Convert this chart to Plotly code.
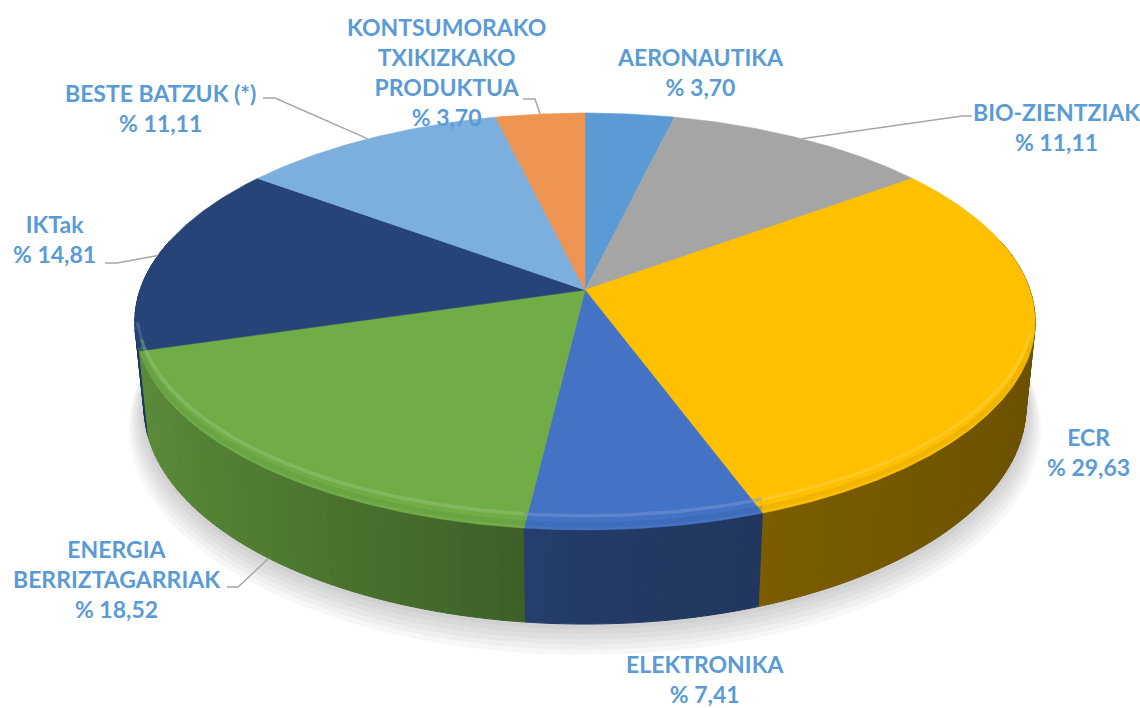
import numpy as np
import plotly.graph_objects as go

# ---------------- data ----------------
categories = ["AERONAUTIKA", "BIO-ZIENTZIAK", "ECR", "ELEKTRONIKA",
              "ENERGIA<br>BERRIZTAGARRIAK", "IKTak", "BESTE BATZUK (*)",
              "KONTSUMORAKO<br>TXIKIZKAKO<br>PRODUKTUA"]
percent = [3.70, 11.11, 29.63, 7.41, 18.52, 14.81, 11.11, 3.70]
value_labels = ["% 3,70", "% 11,11", "% 29,63", "% 7,41",
                "% 18,52", "% 14,81", "% 11,11", "% 3,70"]
colors = ["#5B9BD5", "#A5A5A5", "#FFC000", "#4472C4",
          "#70AD47", "#264478", "#7CAFDD", "#EE9452"]

# ---------------- layout / style ----------------
W, H = 1140, 708
CX, CY = 585.0, 290.0      # projected pie centre (pixels)
RA, RB = 445.0, 203.7      # horizontal / vertical radii
PK = 0.151                 # perspective strength
THICK = 85.0               # thickness of the pie
BOT_R = 0.98               # bottom rim is slightly smaller (further from camera)
LABEL_COLOR = "#5B9BD5"
LEADER_COLOR = "#A6A6A6"
FONT = "Lato"
FSIZE = 23

# label centres (pixels) and leader elbows, per category
label_xy = [(700, 72), (1056, 127), (1088, 452), (705, 679),
            (116, 579), (54, 239), (160, 108), (446, 72)]
leader = {  # idx: (label end, elbow, pie end on bottom rim?)
    1: ((972, 116), (962, 116), False),
    4: ((227, 587), (238, 587), True),
    5: ((105, 263), (117, 263), False),
    6: ((263, 98), (275, 98), False),
    7: ((523, 99), (535, 99), False),
}


def proj(theta_deg, depth=0.0, r=1.0):
    t = np.radians(theta_deg)
    X, Y = r * np.sin(t), r * np.cos(t)
    s = 1.0 / (1.0 + PK * Y)
    return CX + RA * X * s, CY - RB * Y * s + depth * s


def hex2rgb(h):
    h = h.lstrip("#")
    return tuple(int(h[i:i + 2], 16) for i in (0, 2, 4))


def shade(hexcol, f):
    r, g, b = hex2rgb(hexcol)
    return "rgb(%d,%d,%d)" % (min(255, r * f), min(255, g * f), min(255, b * f))


def lighten(hexcol, f):
    r, g, b = hex2rgb(hexcol)
    return "rgb(%d,%d,%d)" % (r + (255 - r) * f, g + (255 - g) * f, b + (255 - b) * f)


total = float(sum(percent))
angles = np.cumsum([0.0] + [p / total * 360.0 for p in percent])

fig = go.Figure()

# soft shadow under the pie
full = np.linspace(0, 360, 361)
for d in [3, 6, 9, 12, 15, 18]:
    xs, ys = proj(full, THICK + d, BOT_R + d * 0.0018)
    fig.add_trace(go.Scatter(x=xs, y=ys, mode="lines", fill="toself",
                             fillcolor="rgba(0,0,0,0.03)", line=dict(width=0),
                             hoverinfo="skip"))

# side walls, drawn back to front
quads = []
for i, (a0, a1) in enumerate(zip(angles[:-1], angles[1:])):
    n = max(2, int(np.ceil((a1 - a0) / 1.5)))
    edges = np.linspace(a0, a1, n + 1)
    for t0, t1 in zip(edges[:-1], edges[1:]):
        tm = 0.5 * (t0 + t1)
        if np.cos(np.radians(tm)) > 0.25:
            continue
        quads.append((np.cos(np.radians(tm)), i, t0, t1, tm))
quads.sort(key=lambda q: -q[0])
for _, i, t0, t1, tm in quads:
    sn = np.sin(np.radians(tm))
    f = 0.52 - (0.3 * sn if sn < 0 else 0.1 * sn)
    ts = np.linspace(t0, t1, 4)
    xt, yt = proj(ts, 0.0)
    xb, yb = proj(ts[::-1], THICK, BOT_R)
    col = shade(colors[i], f)
    fig.add_trace(go.Scatter(
        x=np.concatenate([xt, xb, xt[:1]]), y=np.concatenate([yt, yb, yt[:1]]),
        mode="lines", fill="toself", fillcolor=col,
        line=dict(color=col, width=1), hoverinfo="skip"))

# top faces
for i, (a0, a1) in enumerate(zip(angles[:-1], angles[1:])):
    ts = np.linspace(a0, a1, max(3, int((a1 - a0) / 0.5)))
    xa, ya = proj(ts, 0.0)
    xs = np.concatenate([[CX], xa, [CX]])
    ys = np.concatenate([[CY], ya, [CY]])
    fig.add_trace(go.Scatter(x=xs, y=ys, mode="lines", fill="toself",
                             fillcolor=colors[i], line=dict(color=colors[i], width=0.6),
                             hoverinfo="skip"))

# bevel highlight along the front rim of the top face
for i, (a0, a1) in enumerate(zip(angles[:-1], angles[1:])):
    lo, hi = max(a0, 105.0), min(a1, 258.0)
    if hi <= lo:
        continue
    ts = np.linspace(lo, hi, max(3, int((hi - lo) / 0.5)))
    xs, ys = proj(ts, -11.0, 0.996)
    fig.add_trace(go.Scatter(x=xs, y=ys, mode="lines",
                             line=dict(color=lighten(colors[i], 0.3), width=3.5),
                             opacity=0.45, hoverinfo="skip"))
    xs, ys = proj(ts, -4.0, 0.999)
    fig.add_trace(go.Scatter(x=xs, y=ys, mode="lines",
                             line=dict(color=shade(colors[i], 0.85), width=5),
                             opacity=0.35, hoverinfo="skip"))

# leader lines
for i, (lab_end, elbow, on_bottom) in leader.items():
    mid = 0.5 * (angles[i] + angles[i + 1])
    px, py = proj(mid, THICK, BOT_R) if on_bottom else proj(mid)
    fig.add_trace(go.Scatter(x=[lab_end[0], elbow[0], px], y=[lab_end[1], elbow[1], py],
                             mode="lines", line=dict(color=LEADER_COLOR, width=1.5),
                             hoverinfo="skip"))

# data labels
for i, (cat, val) in enumerate(zip(categories, value_labels)):
    fig.add_annotation(x=label_xy[i][0], y=label_xy[i][1], text=cat + "<br>" + val,
                       showarrow=False, xanchor="center", yanchor="middle",
                       font=dict(family=FONT, size=FSIZE, color=LABEL_COLOR, weight="bold"),
                       align="center")

fig.update_layout(
    width=W, height=H, margin=dict(l=0, r=0, t=0, b=0),
    paper_bgcolor="white", plot_bgcolor="white", showlegend=False,
    hovermode=False,
    xaxis=dict(range=[0, W], visible=False, fixedrange=True),
    yaxis=dict(range=[H, 0], visible=False, fixedrange=True),
)

fig.write_html("out.html", post_script="document.body.style.margin='0';",
               config={"displayModeBar": False})
